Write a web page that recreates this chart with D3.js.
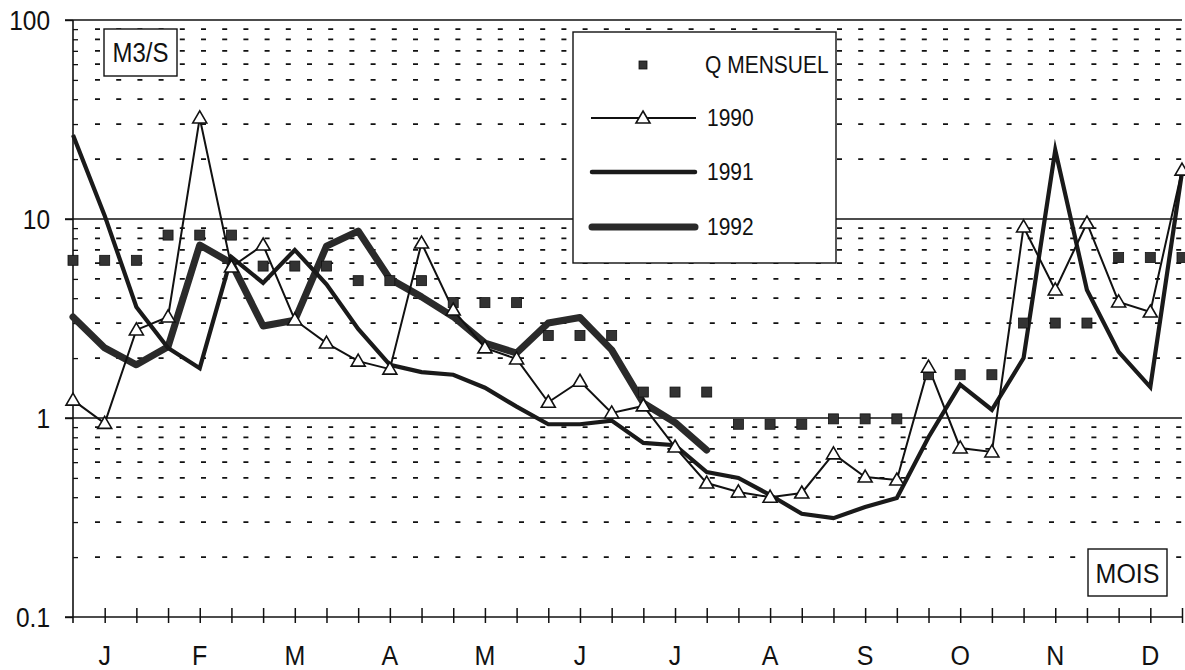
<!DOCTYPE html>
<html>
<head>
<meta charset="utf-8">
<script src="https://cdn.jsdelivr.net/npm/d3@7"></script>
<style>
  html, body { margin: 0; padding: 0; background: #fff; }
  svg { display: block; font-family: "Liberation Sans", Arial, Helvetica, sans-serif; }
</style>
</head>
<body>
<svg id="chart" width="1185" height="670"></svg>
<script>
// ---- data (36 ten-day periods, 3 per month) ----
const months = ["J","F","M","A","M","J","J","A","S","O","N","D"];
const yTickValues = [0.1, 1, 10, 100];
const yTickLabels = ["0.1", "1", "10", "100"];
const qMensuel = [6.2,6.2,6.2, 8.3,8.3,8.3, 5.8,5.8,5.8, 4.9,4.9,4.9, 3.8,3.8,3.8, 2.6,2.6,2.6,
                  1.35,1.35,1.35, 0.93,0.93,0.93, 0.99,0.99,0.99, 1.65,1.65,1.65, 3.0,3.0,3.0, 6.4,6.4,6.4];
const s1990 = [1.23, 0.94, 2.77, 3.22, 32.2, 5.74, 7.4, 3.11, 2.38, 1.93, 1.76, 7.57, 3.49, 2.25, 1.98, 1.20,
               1.53, 1.06, 1.15, 0.715, 0.471, 0.425, 0.40, 0.42, 0.66, 0.505, 0.488, 1.80, 0.707, 0.675,
               9.12, 4.40, 9.55, 3.83, 3.41, 17.6];
const s1991 = [26.4, 10.4, 3.61, 2.25, 1.78, 6.44, 4.77, 6.99, 4.7, 2.8, 1.85, 1.70, 1.65, 1.42, 1.14, 0.93,
               0.93, 0.97, 0.75, 0.73, 0.535, 0.50, 0.41, 0.33, 0.314, 0.357, 0.396, 0.8, 1.47, 1.10,
               2.0, 22.2, 4.4, 2.15, 1.43, 17.2];
const s1992 = [3.22, 2.25, 1.85, 2.28, 7.4, 6.0, 2.9, 3.1, 7.3, 8.7, 5.0, 4.06, 3.23, 2.38, 2.12, 3.0,
               3.2, 2.2, 1.19, 0.95, 0.69];
const legendLabels = ["Q MENSUEL", "1990", "1991", "1992"];

// ---- layout ----
const svg = d3.select("#chart");
const x0 = 73, x1 = 1182, yTop = 20, yBot = 617;
const idx = d3.range(36);
const x = d3.scaleLinear().domain([0, 35]).range([x0, x1]);
const y = d3.scaleLog().domain([0.1, 100]).range([yBot, yTop]);
const STRETCH = 1.12; // scanned glyphs are slightly taller than wide

// minor values for dashed gridlines
const minorVals = [];
[0.1, 1, 10].forEach(d => { for (let k = 2; k <= 9; k++) minorVals.push(+(d * k).toPrecision(3)); });

// dashed minor gridlines
svg.append("g").selectAll("line").data(minorVals).join("line")
  .attr("x1", 95).attr("x2", x1)
  .attr("y1", d => y(d)).attr("y2", d => y(d))
  .attr("stroke", "#111").attr("stroke-width", 1.7)
  .attr("stroke-dasharray", "5,16.2");

// solid major gridlines
svg.append("g").selectAll("line").data(yTickValues.slice(1)).join("line")
  .attr("x1", 65).attr("x2", x1)
  .attr("y1", d => y(d)).attr("y2", d => y(d))
  .attr("stroke", "#111").attr("stroke-width", 1.4);

// y axis (major)
const yAxis = svg.append("g").attr("transform", `translate(${x0},0)`)
  .call(d3.axisLeft(y).tickValues(yTickValues)
        .tickFormat((d, i) => yTickLabels[i]).tickSize(8).tickPadding(15));
yAxis.select(".domain").remove();
yAxis.selectAll(".tick line").attr("stroke", "#111").attr("stroke-width", 1.4);
yAxis.selectAll(".tick text").attr("font-size", 24.5).attr("fill", "#111")
  .attr("font-family", "Liberation Sans, Arial, sans-serif")
  .attr("dy", "0.34em")
  .attr("transform", `scale(1,${STRETCH})`);

// y axis minor ticks (inside)
const yMinor = svg.append("g").attr("transform", `translate(${x0},0)`)
  .call(d3.axisLeft(y).tickValues(minorVals).tickFormat("").tickSize(-5));
yMinor.select(".domain").remove();
yMinor.selectAll(".tick line").attr("stroke", "#111").attr("stroke-width", 1.3);

// y axis line
svg.append("line").attr("x1", x0).attr("x2", x0).attr("y1", yTop).attr("y2", yBot + 6)
  .attr("stroke", "#111").attr("stroke-width", 1.6);

// x axis
const xAxis = svg.append("g").attr("transform", `translate(0,${yBot})`)
  .call(d3.axisBottom(x).tickValues(idx.slice(1)).tickFormat("").tickSize(6));
xAxis.select(".domain").remove();
xAxis.selectAll(".tick line").attr("y1", -9).attr("y2", 6).attr("stroke", "#111").attr("stroke-width", 1.5);
svg.append("line").attr("x1", 65).attr("x2", x1).attr("y1", yBot).attr("y2", yBot)
  .attr("stroke", "#111").attr("stroke-width", 1.6);

// month labels
svg.append("g").selectAll("text").data(months).join("text")
  .attr("transform", (d, i) => `translate(${x(i * 3 + 1)},665) scale(1,${STRETCH})`)
  .attr("text-anchor", "middle").attr("font-size", 25).attr("fill", "#111")
  .text(d => d);

// ---- series ----
const line = d3.line().x((d, i) => x(i)).y(d => y(d));

svg.append("path").datum(s1992).attr("d", line)
  .attr("fill", "none").attr("stroke", "#2a2a2a").attr("stroke-width", 7)
  .attr("stroke-linejoin", "round").attr("stroke-linecap", "round");
svg.append("path").datum(s1991).attr("d", line)
  .attr("fill", "none").attr("stroke", "#1a1a1a").attr("stroke-width", 4.2)
  .attr("stroke-linejoin", "miter").attr("stroke-miterlimit", 6);
svg.append("path").datum(s1990).attr("d", line)
  .attr("fill", "none").attr("stroke", "#111").attr("stroke-width", 2);

// Q mensuel squares
svg.append("g").selectAll("rect").data(qMensuel).join("rect")
  .attr("x", (d, i) => x(i) - 5).attr("y", d => y(d) - 5)
  .attr("width", 10).attr("height", 10)
  .attr("fill", "#333").attr("stroke", "#111").attr("stroke-width", 0.8);

// 1990 triangles
const tri = "M0,-7 L7,5 L-7,5 Z";
svg.append("g").selectAll("path").data(s1990).join("path")
  .attr("d", tri)
  .attr("transform", (d, i) => `translate(${x(i)},${y(d)})`)
  .attr("fill", "#fff").attr("stroke", "#111").attr("stroke-width", 1.6);

// ---- boxes ----
function labelBox(bx, by, bw, bh, txt, fs) {
  svg.append("rect").attr("x", bx).attr("y", by).attr("width", bw).attr("height", bh)
    .attr("fill", "#fff").attr("stroke", "#111").attr("stroke-width", 1.4);
  svg.append("text")
    .attr("transform", `translate(${bx + bw / 2},${by + bh / 2 + fs * 0.4}) scale(1,${STRETCH})`)
    .attr("text-anchor", "middle").attr("font-size", fs).attr("fill", "#111").text(txt);
}
labelBox(104, 29, 73, 47, "M3/S", 24);
labelBox(1088, 549, 79, 47, "MOIS", 25);

// ---- legend ----
const lg = svg.append("g");
lg.append("rect").attr("x", 573).attr("y", 32).attr("width", 263).attr("height", 231)
  .attr("fill", "#fff").attr("stroke", "#111").attr("stroke-width", 1.4);
const legY = [65, 118, 172, 227];
lg.append("rect").attr("x", 639).attr("y", legY[0] - 4).attr("width", 8).attr("height", 8)
  .attr("fill", "#333").attr("stroke", "#111").attr("stroke-width", 0.8);
lg.append("line").attr("x1", 591).attr("x2", 696).attr("y1", legY[1]).attr("y2", legY[1])
  .attr("stroke", "#111").attr("stroke-width", 2.2);
lg.append("path").attr("d", tri).attr("transform", `translate(643,${legY[1]})`)
  .attr("fill", "#fff").attr("stroke", "#111").attr("stroke-width", 1.6);
lg.append("line").attr("x1", 592).attr("x2", 695).attr("y1", legY[2]).attr("y2", legY[2])
  .attr("stroke", "#1a1a1a").attr("stroke-width", 4.5).attr("stroke-linecap", "round");
lg.append("line").attr("x1", 592).attr("x2", 695).attr("y1", legY[3]).attr("y2", legY[3])
  .attr("stroke", "#2a2a2a").attr("stroke-width", 7).attr("stroke-linecap", "round");
lg.selectAll("text").data(legendLabels).join("text")
  .attr("transform", (d, i) => `translate(${i === 0 ? 705 : 707},${legY[i] + 8}) scale(1,${STRETCH})`)
  .attr("font-size", 21).attr("fill", "#111").text(d => d);
</script>
</body>
</html>
